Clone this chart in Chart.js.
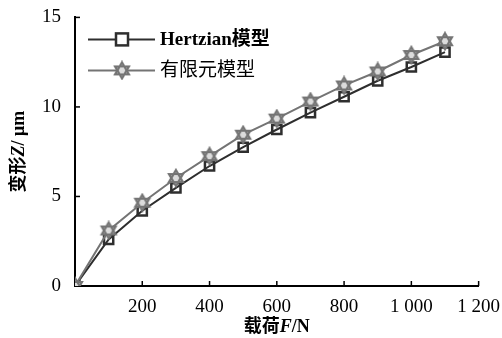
<!DOCTYPE html>
<html>
<head>
<meta charset="utf-8">
<script src="https://cdn.jsdelivr.net/npm/chart.js@4"></script>
<style>
  html, body { margin: 0; padding: 0; background: #fff; }
  #wrap { width: 502px; height: 338px; }
</style>
</head>
<body>
<div id="wrap"><canvas id="chart1"></canvas></div>
<script>
// 载荷 F/N
const loads = [0, 100, 200, 300, 400, 500, 600, 700, 800, 900, 1000, 1100];
// 变形 Z/μm
const hertzian = [0, 2.6, 4.2, 5.48, 6.7, 7.75, 8.74, 9.68, 10.57, 11.46, 12.23, 13.06];
const fem = [0, 3.1, 4.65, 6.03, 7.25, 8.45, 9.35, 10.3, 11.2, 11.98, 12.9, 13.67];
const seriesNames = ["Hertzian模型", "有限元模型"];
const xTicks = [0, 200, 400, 600, 800, 1000, 1200];
const yTicks = [0, 5, 10, 15];

const serif = "'Liberation Serif', 'Noto Sans CJK SC', serif";
const darkLine = "#2e2e2e";
const lightLine = "#747474";

// 六角星标记
function makeStar(color) {
    let c = document.createElement("canvas");
    c.width = 20; c.height = 20;
    let g = c.getContext("2d");
    let r = 8, cx = 10, cy = 10;
    g.beginPath();
    for (let t = 0; t < 2; t++) {
        let off = t === 0 ? -Math.PI / 2 : Math.PI / 2;
        for (let i = 0; i < 3; i++) {
            let a = off + i * 2 * Math.PI / 3;
            let px = cx + r * Math.cos(a), py = cy + r * Math.sin(a);
            if (i === 0) g.moveTo(px, py); else g.lineTo(px, py);
        }
        g.closePath();
    }
    g.fillStyle = "#dcdcdc";
    g.fill();
    g.strokeStyle = color;
    g.lineWidth = 2.2;
    g.stroke();
    return c;
}
const starImg = makeStar(lightLine);

function fmt(v) {
    if (v === 0) return "";
    return v >= 1000 ? Math.floor(v / 1000) + " " + String(v % 1000).padStart(3, "0") : String(v);
}

// 内向刻度、图例和坐标轴标题
const extras = {
    id: "extras",
    afterDraw(chart) {
        const ctx = chart.ctx;
        const xs = chart.scales.x, ys = chart.scales.y;
        const a = chart.chartArea;
        ctx.save();
        ctx.strokeStyle = "#000";
        ctx.lineWidth = 1.5;
        xTicks.forEach(v => {
            if (v === 0) return;
            let px = xs.getPixelForValue(v);
            ctx.beginPath(); ctx.moveTo(px, a.bottom); ctx.lineTo(px, a.bottom - 5); ctx.stroke();
        });
        yTicks.forEach(v => {
            if (v === 0) return;
            let py = ys.getPixelForValue(v);
            ctx.beginPath(); ctx.moveTo(a.left, py); ctx.lineTo(a.left + 5, py); ctx.stroke();
        });

        // legend
        const rows = [a.top + 22, a.top + 53];
        chart.data.datasets.forEach((ds, i) => {
            let y = rows[i];
            let x0 = a.left + 13, x1 = a.left + 80, xm = a.left + 47;
            ctx.strokeStyle = ds.borderColor;
            ctx.lineWidth = 2;
            ctx.beginPath(); ctx.moveTo(x0, y); ctx.lineTo(x1, y); ctx.stroke();
            if (i === 0) {
                ctx.lineWidth = 2.5;
                ctx.fillStyle = "#fff";
                ctx.fillRect(xm - 6, y - 6, 12, 12);
                ctx.strokeRect(xm - 6, y - 6, 12, 12);
            } else {
                ctx.drawImage(starImg, xm - 10, y - 10);
            }
            ctx.fillStyle = "#000";
            ctx.textBaseline = "middle";
            ctx.textAlign = "left";
            ctx.font = (i === 0 ? "bold " : "") + "19px " + serif;
            ctx.fillText(seriesNames[i], x1 + 5, y + 1);
        });

        // x title
        ctx.fillStyle = "#000";
        ctx.textBaseline = "alphabetic";
        let parts = [["载荷", "bold 18px " + serif], ["F", "italic bold 18px " + serif], ["/N", "bold 18px " + serif]];
        let w = 0;
        parts.forEach(p => { ctx.font = p[1]; w += ctx.measureText(p[0]).width; });
        let cx = (a.left + a.right) / 2 - w / 2;
        parts.forEach(p => { ctx.font = p[1]; ctx.fillText(p[0], cx, 332); cx += ctx.measureText(p[0]).width; });

        // y title
        ctx.translate(24, (a.top + a.bottom) / 2);
        ctx.rotate(-Math.PI / 2);
        parts = [["变形", "bold 18px " + serif], ["Z", "italic bold 18px " + serif], ["/ μm", "bold 18px " + serif]];
        w = 0;
        parts.forEach(p => { ctx.font = p[1]; w += ctx.measureText(p[0]).width; });
        cx = -w / 2;
        parts.forEach(p => { ctx.font = p[1]; ctx.fillText(p[0], cx, 0); cx += ctx.measureText(p[0]).width; });
        ctx.restore();
    }
};

new Chart(document.getElementById("chart1"), {
    type: "line",
    data: {
        datasets: [
            {
                label: seriesNames[0],
                data: loads.map((f, i) => ({ x: f, y: hertzian[i] })),
                borderColor: darkLine,
                borderWidth: 2,
                pointStyle: "rect",
                pointRadius: 6.5,
                pointBorderWidth: 2.5,
                pointBorderColor: darkLine,
                pointBackgroundColor: "rgba(255,255,255,0)",
                order: 2
            },
            {
                label: seriesNames[1],
                data: loads.map((f, i) => ({ x: f, y: fem[i] })),
                borderColor: lightLine,
                borderWidth: 2,
                pointStyle: starImg,
                pointRadius: 9,
                order: 1
            }
        ]
    },
    options: {
        responsive: true,
        maintainAspectRatio: false,
        animation: false,
        layout: { padding: { top: 15, right: 20, left: 0, bottom: 0 } },
        plugins: {
            legend: { display: false },
            tooltip: { enabled: false }
        },
        scales: {
            x: {
                type: "linear",
                min: 0,
                max: 1200,
                afterBuildTicks: s => { s.ticks = xTicks.map(v => ({ value: v })); },
                afterFit: s => { s.height = 52; },
                grid: { display: false },
                border: { color: "#000", width: 2 },
                ticks: {
                    color: "#000",
                    font: { family: serif, size: 19 },
                    padding: 2,
                    maxRotation: 0,
                    autoSkip: false,
                    callback: v => fmt(v)
                }
            },
            y: {
                min: 0,
                max: 15,
                afterBuildTicks: s => { s.ticks = yTicks.map(v => ({ value: v })); },
                afterFit: s => { s.width = 75; },
                grid: { display: false },
                border: { color: "#000", width: 2 },
                ticks: {
                    color: "#000",
                    font: { family: serif, size: 19 },
                    padding: 6
                }
            }
        }
    },
    plugins: [extras]
});
</script>
</body>
</html>
